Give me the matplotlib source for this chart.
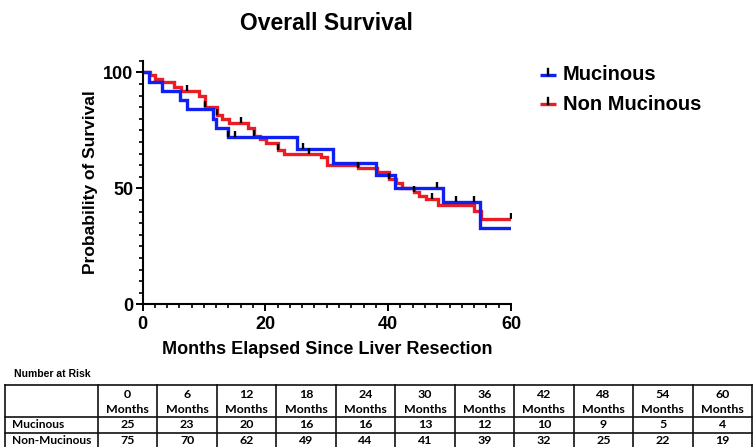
import numpy as np
import matplotlib
matplotlib.use("Agg")
import matplotlib.pyplot as plt
from matplotlib.path import Path
from matplotlib.ticker import MultipleLocator

plt.rcParams['font.family'] = ['Liberation Sans', 'DejaVu Sans']
plt.rcParams['font.weight'] = 'bold'

# Kaplan-Meier steps (months, % survival)
muc_t = [0, 1.0, 3.1, 6.1, 7.2, 11.4, 12.0, 14.0, 25.2, 31.0, 38.0, 41.1, 49.0, 55.0, 60]
muc_s = [100, 96, 92, 88, 84, 80, 76, 72, 67, 61, 55.7, 50, 44, 33, 33]
muc_cens = [14.0, 15.1, 26.2, 47.9, 51.0, 54.0]

non_t = [0, 1.3, 2.1, 3.2, 5.1, 6.2, 9.2, 10.1, 12.1, 13.0, 14.1, 17.1, 18.2, 19.1, 20.1,
         22.0, 23.1, 29.0, 30.1, 35.1, 38.2, 40.2, 41.3, 42.2, 44.2, 45.1, 46.2, 48.1,
         54.0, 55.1, 60]
non_s = [100, 98.7, 97.3, 96.0, 93.8, 92.0, 89.8, 85.2, 81.6, 79.7, 78.3, 75.9, 72.5, 71.1,
         69.7, 66.5, 64.7, 63.4, 60.0, 58.6, 56.9, 54.0, 52.1, 50.3, 48.5, 46.8, 45.4, 42.8,
         40.3, 36.6, 36.6]
non_cens = [7.2, 10.1, 12.1, 16.1, 18.2, 22.0, 27.1, 35.1, 40.2, 44.2, 47.1, 60.0]

# number at risk table
risk_months = [0, 6, 12, 18, 24, 30, 36, 42, 48, 54, 60]
risk_muc = [25, 23, 20, 16, 16, 13, 12, 10, 9, 5, 4]
risk_non = [75, 70, 62, 49, 44, 41, 39, 32, 25, 22, 19]
row_names = ['Mucinous', 'Non-Mucinous']
legend_names = ['Mucinous', 'Non Mucinous']

blue = '#1020f0'
red = '#ea1c24'

def surv_at(t, times, surv):
    idx = np.searchsorted(times, t, side='right') - 1
    return np.array(surv)[idx]

up_tick = Path([(0, 0), (0, 1)], [Path.MOVETO, Path.LINETO])

W, H = 753, 447
fig = plt.figure(figsize=(W / 100, H / 100), dpi=100)
ax = fig.add_axes([142.5 / W, 1 - 304.3 / H, (511 - 142.5) / W, (304.3 - 60.7) / H])

ax.step(non_t, non_s, where='post', color=red, lw=2.4, solid_joinstyle='miter')
ax.step(muc_t, muc_s, where='post', color=blue, lw=2.4, solid_joinstyle='miter')
ax.plot(non_cens, surv_at(non_cens, non_t, non_s), ls='none', marker=up_tick,
        ms=9, mew=1.7, color='black')
ax.plot(muc_cens, surv_at(muc_cens, muc_t, muc_s), ls='none', marker=up_tick,
        ms=9, mew=1.7, color='black')

ax.set_xlim(0, 60)
ax.set_ylim(0, 105)
ax.set_xticks([0, 20, 40, 60])
ax.set_yticks([0, 50, 100])
ax.xaxis.set_minor_locator(MultipleLocator(2))
ax.yaxis.set_minor_locator(MultipleLocator(5))
ax.tick_params(axis='x', which='major', pad=3.5)
ax.tick_params(axis='y', which='major', pad=1.5)
ax.tick_params(which='major', length=5, width=1.4, labelsize=13)
ax.tick_params(which='minor', length=3.2, width=1.2)
for lbl in ax.get_xticklabels() + ax.get_yticklabels():
    lbl.set_fontweight('bold')
for side in ['top', 'right']:
    ax.spines[side].set_visible(False)
for side in ['left', 'bottom']:
    ax.spines[side].set_linewidth(1.5)

ax.set_xlabel('Months Elapsed Since Liver Resection', fontsize=13, fontweight='bold', labelpad=6)
ax.set_ylabel('Probability of Survival', fontsize=12.5, fontweight='bold', labelpad=4)
fig.text(326 / W, 1 - 23 / H, 'Overall Survival', fontsize=16.5, fontweight='bold',
         ha='center', va='center')

# overlay in pixel coordinates for legend and table
tb = fig.add_axes([0, 0, 1, 1], zorder=-1)
tb.set_xlim(0, W)
tb.set_ylim(H, 0)
tb.axis('off')

for name, col, yl in zip(legend_names, [blue, red], [75, 104]):
    tb.plot([540, 556], [yl, yl], color=col, lw=2.4, solid_capstyle='butt')
    tb.plot([548, 548], [yl, yl - 6], color='black', lw=1.7)
    tb.text(563, yl, name, fontsize=14.5, fontweight='bold', va='center', ha='left')

tb.text(14, 374, 'Number at Risk', fontsize=7.5, fontweight='bold', va='center')

x_left, x_first, x_right = 5, 98, 752
col_w = (x_right - x_first) / len(risk_months)
y_rows = [385, 417, 433, 449]
for y in y_rows:
    tb.plot([x_left, x_right], [y, y], color='#111111', lw=1.2, clip_on=False)
tb.plot([x_left, x_left], [y_rows[0], y_rows[-1]], color='#111111', lw=1.2)
for k in range(len(risk_months) + 1):
    x = x_first + k * col_w
    tb.plot([x, x], [y_rows[0], y_rows[-1]], color='#111111', lw=1.2)

tfam = ['Lato', 'DejaVu Sans']
fs = 8.9
for k, m in enumerate(risk_months):
    xc = x_first + (k + 0.5) * col_w
    tb.text(xc, 395, str(m), ha='center', va='center', fontsize=fs,
            fontweight='bold', family=tfam)
    tb.text(xc, 409.5, 'Months', ha='center', va='center', fontsize=fs,
            fontweight='bold', family=tfam)
    tb.text(xc, 425, str(risk_muc[k]), ha='center', va='center', fontsize=fs,
            family=tfam)
    tb.text(xc, 441, str(risk_non[k]), ha='center', va='center', fontsize=fs,
            family=tfam)
for name, yc in zip(row_names, [425, 441]):
    tb.text(12, yc, name, ha='left', va='center', fontsize=8.6, fontweight='bold',
            family=tfam)

fig.savefig('out.png', dpi=100)
